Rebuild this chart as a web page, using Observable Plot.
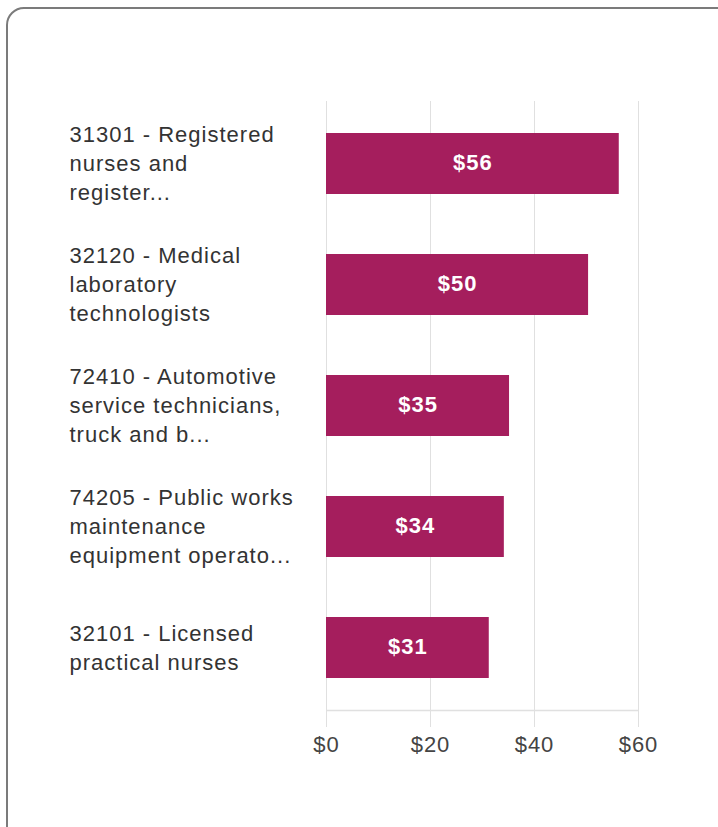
<!DOCTYPE html>
<html>
<head>
<meta charset="utf-8">
<script src="https://cdn.jsdelivr.net/npm/d3@7"></script>
<script src="https://cdn.jsdelivr.net/npm/@observablehq/plot@0.6"></script>
<style>
  html, body { margin: 0; padding: 0; background: #fff; width: 718px; height: 827px; overflow: hidden; }
  #frame { position: absolute; left: 6px; top: 7px; width: 730px; height: 840px; border: 2px solid #7b7b7b; border-radius: 18px; box-sizing: border-box; }
  #chart { position: absolute; left: 0; top: 0; }
  #chart svg text { letter-spacing: 1px; }
</style>
</head>
<body>
<div id="frame"></div>
<div id="chart"></div>
<script>
const categories = [
  "31301 - Registered\nnurses and\nregister...",
  "32120 - Medical\nlaboratory\ntechnologists",
  "72410 - Automotive\nservice technicians,\ntruck and b...",
  "74205 - Public works\nmaintenance\nequipment operato...",
  "32101 - Licensed\npractical nurses"
];
const wages = [56.3, 50.4, 35.2, 34.2, 31.3];
const valueLabels = ["$56", "$50", "$35", "$34", "$31"];
const xTicks = [0, 20, 40, 60];

const data = categories.map((c, i) => ({ category: c, wage: wages[i], label: valueLabels[i] }));

const H = 827, MT = 101, MB = 117;
const chart = Plot.plot({
  width: 718,
  height: H,
  marginLeft: 326,
  marginRight: 80,
  marginTop: MT,
  marginBottom: MB,
  style: { fontFamily: "Arial, 'Liberation Sans', sans-serif", background: "transparent" },
  x: { domain: [0, 60], ticks: xTicks },
  y: { domain: categories, paddingInner: 0.5, paddingOuter: 0.25, axis: null },
  marks: [
    Plot.gridX(xTicks, { stroke: "#e0e0e0", strokeOpacity: 1, strokeWidth: 1 }),
    Plot.ruleY([0], { y: null, x1: 0, x2: 60, dy: (H - MT - MB) / 2, stroke: "#e0e0e0", strokeWidth: 1.5 }),
    Plot.axisX({ ticks: xTicks, tickSize: 17, tickPadding: 9, stroke: "#e0e0e0", tickFormat: d => "$" + d, fontSize: 22, fill: "#444", label: null }),
    Plot.barX(data, { y: "category", x: "wage", fill: "#a51e5d" }),
    Plot.text(data, { y: "category", x: d => d.wage / 2, text: "label", fill: "white", fontSize: 22, fontWeight: "bold", dy: -1 }),
    Plot.text(data, { y: "category", text: "category", frameAnchor: "left", dx: -257, dy: -2, textAnchor: "start", fill: "#333", fontSize: 22, lineHeight: 1.32 })
  ]
});
document.getElementById("chart").append(chart);
</script>
</body>
</html>
